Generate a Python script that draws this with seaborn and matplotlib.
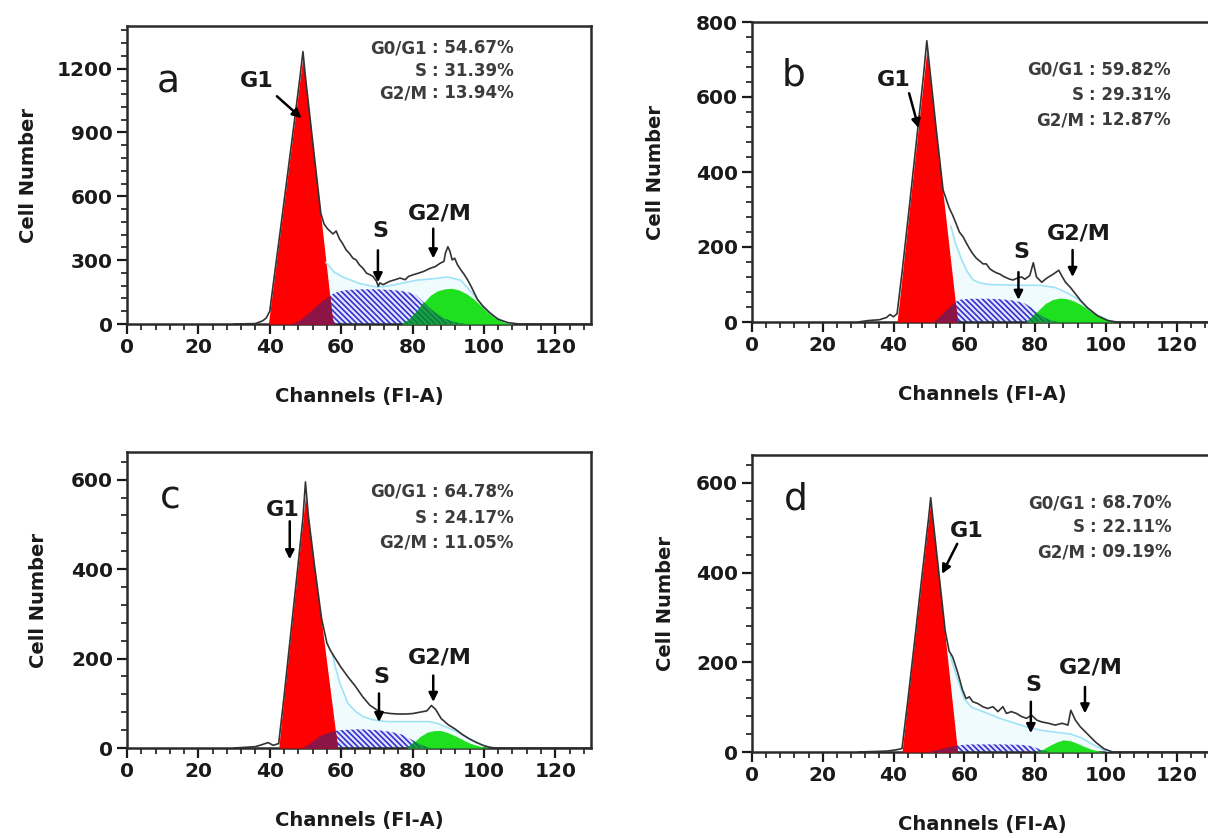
import numpy as np
import matplotlib
matplotlib.use("Agg")
import matplotlib.pyplot as plt
from matplotlib.ticker import MultipleLocator
import seaborn as sns

# ---------------- data ----------------
# Panel a
A_G1_CH = [39.6, 41, 43, 45, 47, 48.5, 49.3, 50, 51.5, 53, 55, 56.5, 57.5, 58]
A_G1_N = [0, 181, 439, 697, 955, 1152, 1255, 1150, 927, 703, 404, 180, 30, 0]
A_S_CH = [46, 48, 50, 52, 54, 56, 58, 60, 62, 66, 70, 74, 77, 79, 81, 83, 85, 87, 89, 92, 95]
A_S_N = [0, 15, 40, 70, 100, 125, 145, 155, 160, 163, 163, 160, 155, 148, 135, 105, 72, 45, 25, 8, 0]
A_G2_CH = [77, 79, 81, 83, 85, 87, 89, 91, 93, 95, 97, 99, 101, 103, 105, 107, 108.5]
A_G2_N = [0, 20, 55, 98, 135, 156, 165, 168, 160, 143, 120, 88, 55, 30, 13, 4, 0]
A_FIT_CH = [55.7, 58, 60.4, 65.2, 69.9, 73, 76.5, 81.3, 86, 89.7, 93.5, 97, 100, 103, 106, 108.5]
A_FIT_N = [290, 245, 221, 190, 174, 178, 190, 206, 213, 221, 206, 140, 80, 35, 8, 0]
A_DATA_CH = [30, 36, 38, 39, 40, 41, 43, 45, 47, 48.5, 49.3, 50, 51.5, 53, 54.3, 55.2, 56.2,
             57.7, 58.6, 59.5, 60.4, 61.4, 62.3, 63.3, 64.2, 65.1, 66.1, 67.1, 68, 68.9, 69.9,
             70.4, 70.8, 71.8, 72.7, 73.7, 75.1, 76.5, 77.9, 78.9, 80.3, 81.7, 83.1, 85, 86.4,
             87.8, 88.8, 89.2, 89.9, 90.5, 91.1, 91.8, 92.6, 93.5, 94.5, 95.4, 96.4, 97.3, 98.2,
             99.7, 101.6, 104, 106.8, 110, 130]
A_DATA_N = [0, 2, 15, 28, 60, 190, 445, 705, 965, 1165, 1280, 1160, 935, 712, 520, 470, 447,
            423, 437, 401, 378, 348, 332, 309, 301, 278, 262, 239, 232, 224, 201,
            177, 193, 185, 193, 201, 208, 216, 208, 224, 232, 239, 247, 262, 270,
            286, 294, 332, 363, 340, 301, 309, 278, 255, 232, 208, 177, 146, 115,
            84, 53, 22, 6, 0, 0]

# Panel b
B_G1_CH = [41, 42.5, 44.5, 46.5, 48.5, 49.4, 50.3, 52, 54, 56, 57.5, 58.1]
B_G1_N = [0, 129, 302, 475, 647, 725, 650, 508, 342, 175, 50, 0]
B_S_CH = [51, 53, 55, 57, 59, 62, 66, 70, 74, 77, 79, 81, 83, 85, 87]
B_S_N = [0, 15, 35, 52, 60, 62, 62, 61, 57, 50, 38, 22, 10, 3, 0]
B_G2_CH = [77.5, 79, 81, 83, 85, 87, 89, 91, 93, 95, 97, 99, 101, 102.5]
B_G2_N = [0, 12, 32, 50, 60, 64, 62, 56, 46, 34, 21, 10, 3, 0]
B_FIT_CH = [56.2, 57.5, 59.2, 60.8, 62.5, 64.5, 66.9, 71, 75.8, 81.3, 85.7, 89, 92, 95, 98, 101, 103]
B_FIT_N = [256, 210, 167, 135, 112, 104, 100, 99, 98, 98, 92, 78, 62, 35, 16, 4, 0]
B_DATA_CH = [30, 33, 36, 38, 39, 40, 41, 42.5, 44.5, 46.5, 48.5, 49.4, 50.3, 52, 54, 55.7,
             56.7, 57.7, 58.6, 59.6, 60.5, 61.5, 62.4, 63.4, 64.3, 65.3, 66.2, 67.2, 68.1,
             69.1, 70, 71, 71.9, 72.9, 73.8, 75.2, 76.2, 77.1, 78.5, 79.5, 80.4, 81.9, 82.9,
             83.8, 85.2, 86.7, 87.6, 88.6, 90, 91.5, 92.9, 94.8, 97.6, 100.5, 103, 130]
B_DATA_N = [0, 4, 6, 12, 20, 14, 22, 140, 310, 485, 660, 750, 670, 520, 352, 305,
            285, 262, 240, 228, 212, 195, 182, 170, 163, 155, 155, 142, 136,
            131, 128, 122, 118, 114, 112, 118, 120, 114, 124, 158, 120, 106, 114,
            120, 128, 138, 122, 106, 92, 74, 57, 38, 17, 4, 0, 0]

# Panel c
C_G1_CH = [42.5, 44, 46, 48, 49.3, 50, 50.8, 52.5, 54.5, 56.5, 58, 59]
C_G1_N = [0, 113, 263, 413, 510, 565, 515, 408, 283, 157, 63, 0]
C_S_CH = [49, 51, 54, 57, 60, 65, 70, 74, 77, 79, 81, 83, 85]
C_S_N = [0, 10, 28, 37, 40, 42, 40, 36, 30, 22, 13, 5, 0]
C_G2_CH = [78.4, 80, 82, 84, 86, 88, 90, 92, 94, 96, 98, 100, 101.5]
C_G2_N = [0, 10, 25, 35, 39, 39, 34, 27, 19, 11, 6, 2, 0]
C_FIT_CH = [57.5, 58.5, 59.7, 61.9, 64, 66.2, 69, 72.7, 79.3, 84.7, 87, 89.1, 92.3, 95, 98, 101, 103]
C_FIT_N = [211, 178, 144, 100, 82, 70, 63, 59, 59, 59, 55, 48, 37, 25, 12, 3, 0]
C_DATA_CH = [30, 36, 38, 39.5, 41, 42.5, 44, 46, 48, 49.3, 50, 50.8, 52.5, 54.5, 56, 57, 58,
             60, 62, 64, 66, 68, 70, 72, 74, 76, 78, 80, 82, 84, 85.3, 86.5, 88, 90, 92, 94,
             96, 98, 100, 102, 104, 130]
C_DATA_N = [0, 3, 8, 12, 6, 10, 115, 265, 415, 515, 595, 520, 410, 290, 235, 218, 205,
            180, 158, 138, 115, 96, 85, 79, 77, 76, 76, 77, 80, 83, 95, 86, 66, 52, 42, 30,
            20, 12, 5, 1, 0, 0]

# Panel d
D_G1_CH = [42.4, 44, 46, 48, 50, 50.5, 51, 53, 55, 57, 58.1]
D_G1_N = [0, 111, 249, 387, 525, 560, 523, 376, 228, 81, 0]
D_S_CH = [49, 52, 55, 58, 62, 70, 76, 79, 81, 83, 84]
D_S_N = [0, 5, 11, 15, 17, 17, 16, 13, 7, 2, 0]
D_G2_CH = [80.5, 82, 84, 86, 88, 90, 92, 94, 96, 98, 99.5]
D_G2_N = [0, 5, 14, 22, 27, 25, 19, 12, 6, 2, 0]
D_FIT_CH = [56, 58, 60, 62, 66, 70, 74, 78, 82, 86, 90, 93, 96, 99, 101]
D_FIT_N = [215, 165, 118, 100, 88, 75, 65, 55, 48, 44, 40, 32, 18, 6, 0]
D_DATA_CH = [30, 38, 40, 41.5, 42.4, 44, 46, 48, 50, 50.5, 51, 53, 54.6, 55.7, 56.7, 58.1,
             59.5, 60.5, 61.4, 62.4, 63.8, 65.2, 66.6, 68.1, 69.5, 70.9, 71.9, 73.3, 74.7,
             76.2, 77.6, 79, 80.5, 81.9, 83.8, 85.7, 87.6, 89.3, 90.1, 91.4, 92.8, 94.7,
             97.1, 99.5, 101.9, 130]
D_DATA_N = [0, 2, 4, 6, 8, 112, 250, 390, 528, 567, 530, 385, 270, 225, 212, 178,
            138, 119, 123, 112, 108, 101, 97, 101, 90, 101, 86, 90, 86,
            79, 75, 82, 71, 67, 64, 60, 64, 60, 93, 71, 56, 41,
            22, 7, 0, 0]

PANEL_LETTERS = ["a", "b", "c", "d"]
G0G1_PCT = ["54.67%", "59.82%", "64.78%", "68.70%"]
S_PCT = ["31.39%", "29.31%", "24.17%", "22.11%"]
G2M_PCT = ["13.94%", "12.87%", "11.05%", "09.19%"]
Y_MAX = [1400, 800, 662, 662]
Y_MAJOR = [300, 200, 200, 200]
Y_MINOR = [60, 40, 40, 40]
X_TICKS = [0, 20, 40, 60, 80, 100, 120]

# ---------------- styling / layout ----------------
sns.set_theme(style="white")
plt.rcParams["font.family"] = ["DejaVu Sans"]
plt.rcParams["hatch.linewidth"] = 1.2

W, H = 1208, 838
fig = plt.figure(figsize=(W / 100, H / 100), dpi=100)

def rect(left, right, top, bottom):
    return [left / W, 1 - bottom / H, (right - left) / W, (bottom - top) / H]

RECTS = [rect(127, 591, 26, 324), rect(752, 1212, 22, 322),
         rect(127, 591, 452, 748), rect(752, 1212, 455, 752)]

SERIES = [
    (A_G1_CH, A_G1_N, A_S_CH, A_S_N, A_G2_CH, A_G2_N, A_FIT_CH, A_FIT_N, A_DATA_CH, A_DATA_N),
    (B_G1_CH, B_G1_N, B_S_CH, B_S_N, B_G2_CH, B_G2_N, B_FIT_CH, B_FIT_N, B_DATA_CH, B_DATA_N),
    (C_G1_CH, C_G1_N, C_S_CH, C_S_N, C_G2_CH, C_G2_N, C_FIT_CH, C_FIT_N, C_DATA_CH, C_DATA_N),
    (D_G1_CH, D_G1_N, D_S_CH, D_S_N, D_G2_CH, D_G2_N, D_FIT_CH, D_FIT_N, D_DATA_CH, D_DATA_N),
]

# label / arrow placement (layout, in data coordinates)
ANN = [
    dict(g1=(36.4, 1140), g1a=((42, 1070), (48.9, 967)), s=(70.9, 439), sa=((70.3, 346), (70.3, 196)),
         g2=(87.7, 519), g2a=((85.8, 448), (85.8, 308))),
    dict(g1=(40, 645), g1a=((44.4, 610), (47.1, 517)), s=(76.1, 187), sa=((75.3, 133), (75.3, 59)),
         g2=(92.5, 237), g2a=((90.6, 192), (90.6, 120))),
    dict(g1=(43.7, 533), g1a=((45.6, 507), (45.6, 422)), s=(71.4, 158), sa=((70.6, 122), (70.6, 58)),
         g2=(87.7, 203), g2a=((85.8, 162), (85.8, 103))),
    dict(g1=(60.7, 493), g1a=((58, 464), (53.7, 397)), s=(79.4, 149), sa=((78.8, 112), (78.8, 42)),
         g2=(95.8, 189), g2a=((94.1, 145), (94.1, 86))),
]
STATS_POS = [(0.653, [0.926, 0.849, 0.775]), (0.728, [0.840, 0.757, 0.673]),
             (0.653, [0.865, 0.777, 0.693]), (0.730, [0.838, 0.758, 0.673])]
LETTER_POS = [(0.065, 0.778), (0.065, 0.79), (0.071, 0.81), (0.07, 0.815)]
YLABEL_X = [-0.191, -0.189, -0.170, -0.167]

GRID = np.linspace(30, 112, 1641)
INK = "#1a1a1a"

for i in range(4):
    g1x, g1y, sx, sy, g2x, g2y, fx, fy, dx, dy = SERIES[i]
    ax = fig.add_axes(RECTS[i])
    ax.set_facecolor("white")

    red = np.interp(GRID, g1x, g1y, left=0, right=0)
    sph = np.interp(GRID, sx, sy, left=0, right=0)
    g2 = np.interp(GRID, g2x, g2y, left=0, right=0)
    fit = np.interp(GRID, fx, fy, left=0, right=0)

    # faint model area
    ax.fill_between(GRID, 0, fit, where=fit > 0, color="#f0fbfe", lw=0, zorder=1)
    # S phase: hatched
    ax.fill_between(GRID, 0, sph, facecolor="#e4e4ff", edgecolor="#3030cc",
                    hatch="\\\\\\\\\\\\", lw=0, zorder=2)
    # G1 peak
    ax.fill_between(GRID, 0, red, color="#ff0000", lw=0, zorder=3)
    ax.fill_between(GRID, 0, np.minimum(red, sph), color="#8c1446", lw=0, zorder=4)
    # G2/M peak
    ax.fill_between(GRID, 0, g2, color="#1fe01f", lw=0, zorder=3)
    ax.fill_between(GRID, 0, np.minimum(g2, sph), facecolor="#17a24a", edgecolor="#0f7a3a",
                    hatch="\\\\\\\\\\\\", lw=0, zorder=4)

    sns.lineplot(x=fx, y=fy, ax=ax, color="#9fe3f5", lw=1.2, estimator=None, zorder=5)
    sns.lineplot(x=dx, y=dy, ax=ax, color="#333333", lw=1.2, estimator=None, zorder=6)

    ax.set_xlim(0, 130)
    ax.set_xticks(X_TICKS)
    ax.xaxis.set_minor_locator(MultipleLocator(4))
    ax.yaxis.set_major_locator(MultipleLocator(Y_MAJOR[i]))
    ax.yaxis.set_minor_locator(MultipleLocator(Y_MINOR[i]))
    ax.set_ylim(0, Y_MAX[i])
    ax.tick_params(which="major", direction="out", length=7, width=1.6, color=INK,
                   labelsize=14.5, labelcolor=INK, pad=3, bottom=True, left=True)
    ax.tick_params(which="minor", direction="out", length=4, width=1.2, color=INK,
                   bottom=True, left=True)
    for lab in ax.get_xticklabels() + ax.get_yticklabels():
        lab.set_fontweight("bold")
    for sp in ax.spines.values():
        sp.set_visible(True)
        sp.set_color("#2a2a2a")
        sp.set_linewidth(1.8)

    ax.set_xlabel("Channels (FI-A)", fontsize=14, fontweight="bold", color=INK, labelpad=22)
    ax.set_ylabel("Cell Number", fontsize=14, fontweight="bold", color=INK)
    ax.yaxis.set_label_coords(YLABEL_X[i], 0.5)

    # panel letter
    lx, ly = LETTER_POS[i]
    ax.text(lx, ly, PANEL_LETTERS[i], transform=ax.transAxes, fontsize=27,
            ha="left", va="baseline", color=INK, zorder=10)

    # phase percentages
    cx, ys = STATS_POS[i]
    rows = [("G0/G1", G0G1_PCT[i]), ("S", S_PCT[i]), ("G2/M", G2M_PCT[i])]
    for (name, val), yy in zip(rows, ys):
        ax.text(cx - 0.006, yy, name, transform=ax.transAxes, ha="right", va="center",
                fontsize=12, fontweight="bold", color="#3c3c3c", zorder=10)
        ax.text(cx + 0.004, yy, ": " + val, transform=ax.transAxes, ha="left", va="center",
                fontsize=12, fontweight="bold", color="#3c3c3c", zorder=10)

    # phase labels + arrows
    a = ANN[i]
    for key_t, key_a, txt in (("g1", "g1a", "G1"), ("s", "sa", "S"), ("g2", "g2a", "G2/M")):
        ax.text(*a[key_t], txt, ha="center", va="center", fontsize=16,
                fontweight="bold", color=INK, zorder=10)
        (x0, y0), (x1, y1) = a[key_a]
        ax.annotate("", xy=(x1, y1), xytext=(x0, y0),
                    arrowprops=dict(arrowstyle="-|>", color="black", lw=1.8,
                                    mutation_scale=13, shrinkA=0, shrinkB=0), zorder=10)

fig.savefig("out.png", dpi=100, facecolor="white")
